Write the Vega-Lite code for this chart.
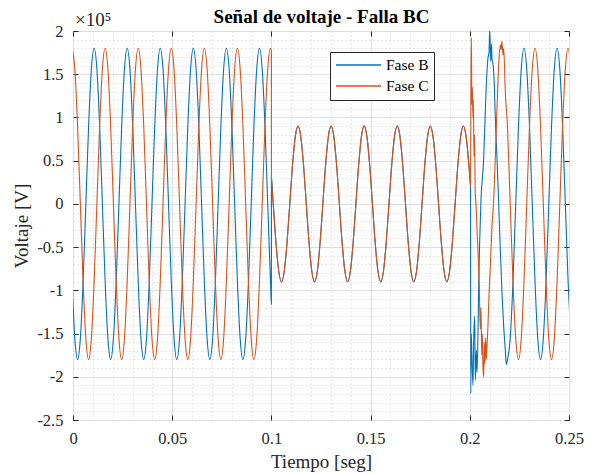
{
"$schema": "https://vega.github.io/schema/vega-lite/v6.json",
"width": 496, "height": 389,
"autosize": "none",
"padding": {"left": 73, "top": 31, "right": 22, "bottom": 54},
"background": "white",
"config": {"view": {"stroke": "#262626", "strokeWidth": 1}, "font": "Liberation Serif"},
"data": {"values": [
{"t":-0.00046,"b":-0.9,"c":1.8},{"t":0.00093,"b":-1.559,"c":1.559},{"t":0.00231,"b":-1.8,"c":0.9},{"t":0.0037,"b":-1.559,"c":0},{"t":0.00509,"b":-0.9,"c":-0.9},{"t":0.00648,"b":0,"c":-1.559},{"t":0.00787,"b":0.9,"c":-1.8},{"t":0.00926,"b":1.559,"c":-1.559},{"t":0.01065,"b":1.8,"c":-0.9},{"t":0.01204,"b":1.559,"c":0},{"t":0.01343,"b":0.9,"c":0.9},{"t":0.01481,"b":0,"c":1.559},
{"t":0.0162,"b":-0.9,"c":1.8},{"t":0.01759,"b":-1.559,"c":1.559},{"t":0.01898,"b":-1.8,"c":0.9},{"t":0.02037,"b":-1.559,"c":0},{"t":0.02176,"b":-0.9,"c":-0.9},{"t":0.02315,"b":0,"c":-1.559},{"t":0.02454,"b":0.9,"c":-1.8},{"t":0.02593,"b":1.559,"c":-1.559},{"t":0.02731,"b":1.8,"c":-0.9},{"t":0.0287,"b":1.559,"c":0},{"t":0.03009,"b":0.9,"c":0.9},{"t":0.03148,"b":0,"c":1.559},
{"t":0.03287,"b":-0.9,"c":1.8},{"t":0.03426,"b":-1.559,"c":1.559},{"t":0.03565,"b":-1.8,"c":0.9},{"t":0.03704,"b":-1.559,"c":0},{"t":0.03843,"b":-0.9,"c":-0.9},{"t":0.03981,"b":0,"c":-1.559},{"t":0.0412,"b":0.9,"c":-1.8},{"t":0.04259,"b":1.559,"c":-1.559},{"t":0.04398,"b":1.8,"c":-0.9},{"t":0.04537,"b":1.559,"c":0},{"t":0.04676,"b":0.9,"c":0.9},{"t":0.04815,"b":0,"c":1.559},
{"t":0.04954,"b":-0.9,"c":1.8},{"t":0.05093,"b":-1.559,"c":1.559},{"t":0.05231,"b":-1.8,"c":0.9},{"t":0.0537,"b":-1.559,"c":0},{"t":0.05509,"b":-0.9,"c":-0.9},{"t":0.05648,"b":0,"c":-1.559},{"t":0.05787,"b":0.9,"c":-1.8},{"t":0.05926,"b":1.559,"c":-1.559},{"t":0.06065,"b":1.8,"c":-0.9},{"t":0.06204,"b":1.559,"c":0},{"t":0.06343,"b":0.9,"c":0.9},{"t":0.06481,"b":0,"c":1.559},
{"t":0.0662,"b":-0.9,"c":1.8},{"t":0.06759,"b":-1.559,"c":1.559},{"t":0.06898,"b":-1.8,"c":0.9},{"t":0.07037,"b":-1.559,"c":0},{"t":0.07176,"b":-0.9,"c":-0.9},{"t":0.07315,"b":0,"c":-1.559},{"t":0.07454,"b":0.9,"c":-1.8},{"t":0.07593,"b":1.559,"c":-1.559},{"t":0.07731,"b":1.8,"c":-0.9},{"t":0.0787,"b":1.559,"c":0},{"t":0.08009,"b":0.9,"c":0.9},{"t":0.08148,"b":0,"c":1.559},
{"t":0.08287,"b":-0.9,"c":1.8},{"t":0.08426,"b":-1.559,"c":1.559},{"t":0.08565,"b":-1.8,"c":0.9},{"t":0.08704,"b":-1.559,"c":0},{"t":0.08843,"b":-0.9,"c":-0.9},{"t":0.08981,"b":0,"c":-1.559},{"t":0.0912,"b":0.9,"c":-1.8},{"t":0.09259,"b":1.559,"c":-1.559},{"t":0.09398,"b":1.8,"c":-0.9},{"t":0.09537,"b":1.559,"c":0},{"t":0.09676,"b":0.9,"c":0.9},{"t":0.09815,"b":0,"c":1.559},
{"t":0.09954,"b":-0.9,"c":1.8},{"t":0.1,"b":-1.16,"c":1.77},{"t":0.10001,"b":0.31,"c":0.31},
{"t":0.10093,"b":0,"c":0},{"t":0.10231,"b":-0.45,"c":-0.45},{"t":0.1037,"b":-0.779,"c":-0.779},{"t":0.10509,"b":-0.9,"c":-0.9},{"t":0.10648,"b":-0.779,"c":-0.779},{"t":0.10787,"b":-0.45,"c":-0.45},{"t":0.10926,"b":0,"c":0},{"t":0.11065,"b":0.45,"c":0.45},{"t":0.11204,"b":0.779,"c":0.779},{"t":0.11343,"b":0.9,"c":0.9},{"t":0.11481,"b":0.779,"c":0.779},{"t":0.1162,"b":0.45,"c":0.45},
{"t":0.11759,"b":0,"c":0},{"t":0.11898,"b":-0.45,"c":-0.45},{"t":0.12037,"b":-0.779,"c":-0.779},{"t":0.12176,"b":-0.9,"c":-0.9},{"t":0.12315,"b":-0.779,"c":-0.779},{"t":0.12454,"b":-0.45,"c":-0.45},{"t":0.12593,"b":0,"c":0},{"t":0.12731,"b":0.45,"c":0.45},{"t":0.1287,"b":0.779,"c":0.779},{"t":0.13009,"b":0.9,"c":0.9},{"t":0.13148,"b":0.779,"c":0.779},{"t":0.13287,"b":0.45,"c":0.45},
{"t":0.13426,"b":0,"c":0},{"t":0.13565,"b":-0.45,"c":-0.45},{"t":0.13704,"b":-0.779,"c":-0.779},{"t":0.13843,"b":-0.9,"c":-0.9},{"t":0.13981,"b":-0.779,"c":-0.779},{"t":0.1412,"b":-0.45,"c":-0.45},{"t":0.14259,"b":0,"c":0},{"t":0.14398,"b":0.45,"c":0.45},{"t":0.14537,"b":0.779,"c":0.779},{"t":0.14676,"b":0.9,"c":0.9},{"t":0.14815,"b":0.779,"c":0.779},{"t":0.14954,"b":0.45,"c":0.45},
{"t":0.15093,"b":0,"c":0},{"t":0.15231,"b":-0.45,"c":-0.45},{"t":0.1537,"b":-0.779,"c":-0.779},{"t":0.15509,"b":-0.9,"c":-0.9},{"t":0.15648,"b":-0.779,"c":-0.779},{"t":0.15787,"b":-0.45,"c":-0.45},{"t":0.15926,"b":0,"c":0},{"t":0.16065,"b":0.45,"c":0.45},{"t":0.16204,"b":0.779,"c":0.779},{"t":0.16343,"b":0.9,"c":0.9},{"t":0.16481,"b":0.779,"c":0.779},{"t":0.1662,"b":0.45,"c":0.45},
{"t":0.16759,"b":0,"c":0},{"t":0.16898,"b":-0.45,"c":-0.45},{"t":0.17037,"b":-0.779,"c":-0.779},{"t":0.17176,"b":-0.9,"c":-0.9},{"t":0.17315,"b":-0.779,"c":-0.779},{"t":0.17454,"b":-0.45,"c":-0.45},{"t":0.17593,"b":0,"c":0},{"t":0.17731,"b":0.45,"c":0.45},{"t":0.1787,"b":0.779,"c":0.779},{"t":0.18009,"b":0.9,"c":0.9},{"t":0.18148,"b":0.779,"c":0.779},{"t":0.18287,"b":0.45,"c":0.45},
{"t":0.18426,"b":0,"c":0},{"t":0.18565,"b":-0.45,"c":-0.45},{"t":0.18704,"b":-0.779,"c":-0.779},{"t":0.18843,"b":-0.9,"c":-0.9},{"t":0.18981,"b":-0.779,"c":-0.779},{"t":0.1912,"b":-0.45,"c":-0.45},{"t":0.19259,"b":0,"c":0},{"t":0.19398,"b":0.45,"c":0.45},{"t":0.19537,"b":0.779,"c":0.779},{"t":0.19676,"b":0.9,"c":0.9},{"t":0.19815,"b":0.779,"c":0.779},{"t":0.19954,"b":0.45,"c":0.45},
{"t":0.20035,"b":0.21,"c":0.21},
{"t":0.2005,"b":-2.19},{"t":0.20075,"b":-1.5},{"t":0.20111,"b":-1.8},{"t":0.20161,"b":-2.1},{"t":0.20196,"b":-1.57},{"t":0.20247,"b":-1.3},{"t":0.20277,"b":-2.04},{"t":0.20328,"b":-1.69},{"t":0.20363,"b":-1.95},{"t":0.20413,"b":-1.5},{"t":0.20449,"b":-0.92},{"t":0.20499,"b":-0.42},{"t":0.20565,"b":0.05},{"t":0.20701,"b":0.53},{"t":0.20817,"b":1.3},{"t":0.20918,"b":1.69},{"t":0.20968,"b":1.75},{"t":0.21003,"b":2.02},{"t":0.21054,"b":1.65},{"t":0.21094,"b":1.85},{"t":0.21119,"b":1.68},{"t":0.21169,"b":1.62},{"t":0.21235,"b":1.38},{"t":0.21285,"b":1.0},{"t":0.21371,"b":0.53},{"t":0.21457,"b":0.0},{"t":0.21537,"b":-0.53},{"t":0.21623,"b":-1.03},{"t":0.21709,"b":-1.42},{"t":0.21789,"b":-1.69},{"t":0.2184,"b":-1.86},
{"t":0.2006,"c":1.3},{"t":0.20081,"c":1.92},{"t":0.20105,"c":1.15},{"t":0.20131,"c":1.35},{"t":0.20156,"c":1.0},{"t":0.20181,"c":1.2},{"t":0.20212,"c":0.55},{"t":0.20242,"c":0.8},{"t":0.20272,"c":0.15},{"t":0.20312,"c":0.0},{"t":0.20363,"c":-0.3},{"t":0.20413,"c":-0.55},{"t":0.20479,"c":-0.95},{"t":0.20529,"c":-1.45},{"t":0.20565,"c":-1.2},{"t":0.206,"c":-1.75},{"t":0.2063,"c":-1.5},{"t":0.20665,"c":-1.9},{"t":0.20701,"c":-2.0},{"t":0.20731,"c":-1.6},{"t":0.20766,"c":-1.85},{"t":0.20801,"c":-1.55},{"t":0.20832,"c":-1.8},{"t":0.20867,"c":-1.65},{"t":0.20917,"c":-1.4},{"t":0.20968,"c":-1.05},{"t":0.21033,"c":-0.73},{"t":0.21119,"c":-0.26},{"t":0.21205,"c":0.05},{"t":0.21285,"c":0.53},{"t":0.21371,"c":1.11},{"t":0.21457,"c":1.61},{"t":0.21537,"c":1.84},{"t":0.21573,"c":1.78},{"t":0.21623,"c":1.88},{"t":0.21673,"c":1.72},{"t":0.21709,"c":1.8},{"t":0.21789,"c":1.3},
{"t":0.21898,"b":-1.8,"c":0.9},{"t":0.22037,"b":-1.559,"c":0},{"t":0.22176,"b":-0.9,"c":-0.9},{"t":0.22315,"b":0,"c":-1.559},{"t":0.22454,"b":0.9,"c":-1.8},{"t":0.22593,"b":1.559,"c":-1.559},{"t":0.22731,"b":1.8,"c":-0.9},{"t":0.2287,"b":1.559,"c":0},{"t":0.23009,"b":0.9,"c":0.9},{"t":0.23148,"b":0,"c":1.559},
{"t":0.23287,"b":-0.9,"c":1.8},{"t":0.23426,"b":-1.559,"c":1.559},{"t":0.23565,"b":-1.8,"c":0.9},{"t":0.23704,"b":-1.559,"c":0},{"t":0.23843,"b":-0.9,"c":-0.9},{"t":0.23981,"b":0,"c":-1.559},{"t":0.2412,"b":0.9,"c":-1.8},{"t":0.24259,"b":1.559,"c":-1.559},{"t":0.24398,"b":1.8,"c":-0.9},{"t":0.24537,"b":1.559,"c":0},{"t":0.24676,"b":0.9,"c":0.9},{"t":0.24815,"b":0,"c":1.559},
{"t":0.24954,"b":-0.9,"c":1.8},{"t":0.25093,"b":-1.559,"c":1.559}
]},
"layer": [
{
"transform": [{"fold": ["b", "c"], "as": ["serie", "v"]}, {"filter": "isValid(datum.v)"}],
"mark": {"type": "line", "interpolate": "monotone", "strokeWidth": 1.1, "clip": true},
"encoding": {
"x": {"field": "t", "type": "quantitative", "scale": {"domain": [0, 0.25], "nice": false, "zero": false},
"axis": {"orient": "bottom", "values": [0,0.01,0.02,0.03,0.04,0.05,0.06,0.07,0.08,0.09,0.1,0.11,0.12,0.13,0.14,0.15,0.16,0.17,0.18,0.19,0.2,0.21,0.22,0.23,0.24,0.25],
"labelExpr": "abs(datum.value*20 - round(datum.value*20)) < 1e-6 ? format(datum.value, '.2~f') : ''",
"labelFont": "Liberation Serif", "labelFontSize": 16.5, "labelColor": "#262626", "labelPadding": 15, "labelFlush": false, "labelOverlap": false,
"ticks": true, "tickSize": -5, "tickColor": "#262626", "tickWidth": 1,
"tickOpacity": {"condition": {"test": "abs(datum.value*20 - round(datum.value*20)) < 1e-6", "value": 1}, "value": 0},
"grid": true,
"gridColor": {"condition": {"test": "abs(datum.value*20 - round(datum.value*20)) < 1e-6", "value": "#dedede"}, "value": "#c4c4c4"},
"gridDash": {"condition": {"test": "abs(datum.value*20 - round(datum.value*20)) < 1e-6", "value": []}, "value": [1, 3]},
"gridWidth": {"condition": {"test": "abs(datum.value*20 - round(datum.value*20)) < 1e-6", "value": 1}, "value": 0.8},
"domain": false,
"title": "Tiempo [seg]", "titleFont": "Liberation Serif", "titleFontSize": 19, "titleFontWeight": "normal", "titleColor": "#262626", "titlePadding": 6}},
"y": {"field": "v", "type": "quantitative", "scale": {"domain": [-2.5, 2], "nice": false, "zero": false},
"axis": {"orient": "left", "values": [-2.5,-2.4,-2.3,-2.2,-2.1,-2,-1.9,-1.8,-1.7,-1.6,-1.5,-1.4,-1.3,-1.2,-1.1,-1,-0.9,-0.8,-0.7,-0.6,-0.5,-0.4,-0.3,-0.2,-0.1,0,0.1,0.2,0.3,0.4,0.5,0.6,0.7,0.8,0.9,1,1.1,1.2,1.3,1.4,1.5,1.6,1.7,1.8,1.9,2],
"labelExpr": "abs(datum.value*2 - round(datum.value*2)) < 1e-6 ? (datum.value < -1e-9 ? '-' : '') + format(abs(datum.value), '.1~f') : ''",
"labelFont": "Liberation Serif", "labelFontSize": 16.5, "labelColor": "#262626", "labelPadding": 15, "labelFlush": false, "labelOverlap": false,
"ticks": true, "tickSize": -5, "tickColor": "#262626", "tickWidth": 1,
"tickOpacity": {"condition": {"test": "abs(datum.value*2 - round(datum.value*2)) < 1e-6", "value": 1}, "value": 0},
"grid": true,
"gridColor": {"condition": {"test": "abs(datum.value*2 - round(datum.value*2)) < 1e-6", "value": "#dedede"}, "value": "#c4c4c4"},
"gridDash": {"condition": {"test": "abs(datum.value*2 - round(datum.value*2)) < 1e-6", "value": []}, "value": [1, 3]},
"gridWidth": {"condition": {"test": "abs(datum.value*2 - round(datum.value*2)) < 1e-6", "value": 1}, "value": 0.8},
"domain": false,
"title": "Voltaje [V]", "titleFont": "Liberation Serif", "titleFontSize": 19, "titleFontWeight": "normal", "titleColor": "#262626", "titlePadding": 5}},
"color": {"field": "serie", "type": "nominal", "scale": {"domain": ["b", "c"], "range": ["#0072BD", "#D95319"]},
"legend": {"orient": "none", "legendX": 257, "legendY": 21, "title": null,
"labelExpr": "datum.label == 'b' ? 'Fase B' : 'Fase C'",
"labelFont": "Liberation Serif", "labelFontSize": 15.5, "labelColor": "#000000", "labelOffset": 4,
"symbolType": "stroke", "symbolSize": 2025, "symbolStrokeWidth": 1.3, "clipHeight": 16, "rowPadding": 4,
"padding": 5, "strokeColor": "#262626", "fillColor": "#ffffff", "cornerRadius": 0}}
}
},
{
"data": {"values": [{"s": "×10⁵"}]},
"mark": {"type": "text", "align": "left", "baseline": "alphabetic", "dx": 2, "dy": -5, "fontSize": 19, "font": "Liberation Serif", "color": "#262626"},
"encoding": {
"text": {"field": "s"},
"x": {"datum": 0, "type": "quantitative", "scale": {"domain": [0, 0.25], "nice": false, "zero": false},
"axis": {"orient": "top", "values": [0, 0.05, 0.1, 0.15, 0.2, 0.25], "labels": false, "grid": false, "domain": false,
"ticks": true, "tickSize": -5, "tickColor": "#262626", "tickWidth": 1,
"title": "Señal de voltaje - Falla BC", "titleFont": "Liberation Serif", "titleFontSize": 19, "titleFontWeight": "bold", "titleColor": "#000000", "titlePadding": 4.5}},
"y": {"datum": 2, "type": "quantitative", "scale": {"domain": [-2.5, 2], "nice": false, "zero": false},
"axis": {"orient": "right", "values": [-2.5,-2,-1.5,-1,-0.5,0,0.5,1,1.5,2], "labels": false, "grid": false, "domain": false,
"ticks": true, "tickSize": -5, "tickColor": "#262626", "tickWidth": 1, "title": null}}
}
}
],
"resolve": {"axis": {"x": "independent", "y": "independent"}}
}
